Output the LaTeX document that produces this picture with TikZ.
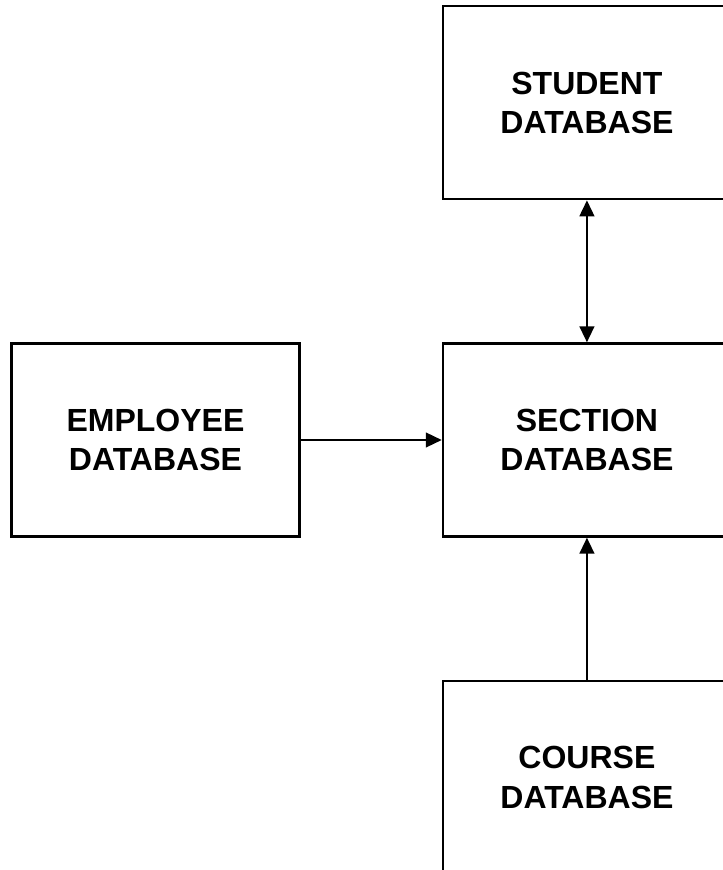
\documentclass[tikz,border=0pt]{standalone}
\usepackage{fontspec}
\setmainfont{Liberation Sans}
\usetikzlibrary{arrows.meta}
\tikzstyle{block} = [draw, line width=1.75pt, rectangle, align=center,
    minimum width=216pt, minimum height=144.75pt,
    font=\fontsize{24}{29.5}\selectfont\bfseries]
\tikzstyle{link} = [line width=1.75pt]
\begin{document}
\begin{tikzpicture}[auto, node distance=253pt, >={Triangle[length=12pt,width=11pt]}]
    \useasboundingbox (-116.6pt,330pt) rectangle (425.6pt,-322.5pt);
    \node [block] (employee) {EMPLOYEE\\DATABASE};
    \node [block, right of=employee, node distance=323.6pt] (section) {SECTION\\DATABASE};
    \node [block, above of=section] (student) {STUDENT\\DATABASE};
    \node [block, below of=section] (course) {COURSE\\DATABASE};
    \draw [<->,link] (student) -- (section);
    \draw [->,link] (employee) -- (section);
    \draw [->,link] (course) -- (section);
\end{tikzpicture}
\end{document}
